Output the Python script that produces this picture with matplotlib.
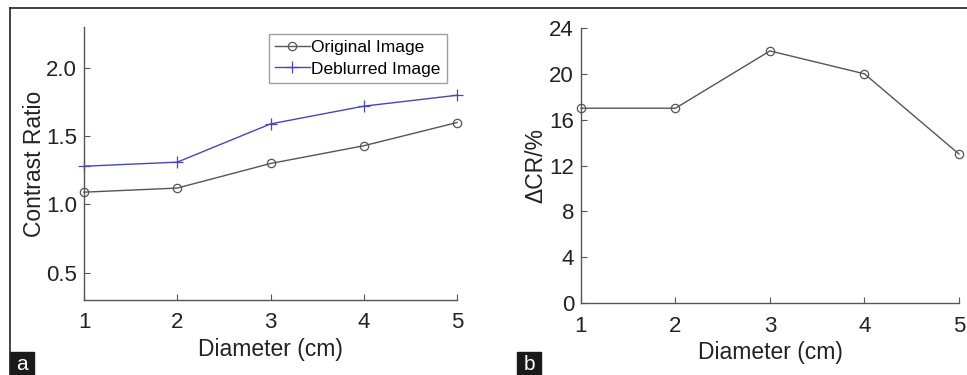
import numpy as np
import matplotlib
matplotlib.use('Agg')
import matplotlib.pyplot as plt
from matplotlib.lines import Line2D
from matplotlib.patches import Rectangle

plt.rcParams['font.family'] = ['Liberation Sans', 'DejaVu Sans']

# data
diameter = [1, 2, 3, 4, 5]
original = [1.09, 1.12, 1.30, 1.43, 1.60]
deblurred = [1.28, 1.31, 1.59, 1.72, 1.80]
delta_cr = [17, 17, 22, 20, 13]
cr_ticks = [0.5, 1.0, 1.5, 2.0]
dcr_ticks = [0, 4, 8, 12, 16, 20, 24]

gray = '#555555'
blue = '#4646c0'

fig = plt.figure(figsize=(9.67, 3.75), dpi=100)


def style_axes(ax):
    for s in ['top', 'right']:
        ax.spines[s].set_visible(False)
    for s in ['left', 'bottom']:
        ax.spines[s].set_color(gray)
        ax.spines[s].set_linewidth(1.0)
    ax.tick_params(direction='in', length=4, width=0.8, color=gray,
                   labelsize=16, labelcolor='#222222')
    ax.tick_params(axis='x', pad=9)
    ax.tick_params(axis='y', pad=5)
    ax.set_xticks(diameter)


# panel a
ax1 = fig.add_axes([0.0869, 0.2, 0.3857, 0.728])
ax1.plot(diameter, original, '-o', color=gray, lw=1.0, ms=6, mfc='none',
         mew=0.9, label='Original Image', clip_on=False)
ax1.plot(diameter, deblurred, '-+', color=blue, lw=1.0, ms=8, mew=0.9,
         label='Deblurred Image', clip_on=False)
ax1.set_xlim(1, 5)
ax1.set_ylim(0.3, 2.3)
ax1.set_yticks(cr_ticks)
ax1.set_yticklabels(['%.1f' % v for v in cr_ticks])
style_axes(ax1)
ax1.set_xlabel('Diameter (cm)', fontsize=16.5, color='#222222', labelpad=3)
ax1.set_ylabel('Contrast Ratio', fontsize=16.5, color='#222222', labelpad=0)
leg = ax1.legend(loc='upper right', bbox_to_anchor=(0.973, 0.974), fontsize=12.5,
                 frameon=True, fancybox=False, handlelength=2.0,
                 handletextpad=0.1, borderpad=0.35, labelspacing=0.35,
                 borderaxespad=0)
leg.get_frame().set_edgecolor('#888888')
leg.get_frame().set_linewidth(1.0)

# panel b
ax2 = fig.add_axes([0.6008, 0.192, 0.3909, 0.7333])
ax2.plot(diameter, delta_cr, '-o', color=gray, lw=1.0, ms=6, mfc='none',
         mew=0.9, clip_on=False)
ax2.set_xlim(1, 5)
ax2.set_ylim(0, 24)
ax2.set_yticks(dcr_ticks)
style_axes(ax2)
ax2.set_xlabel('Diameter (cm)', fontsize=16.5, color='#222222', labelpad=3)
ax2.set_ylabel('ΔCR/%', fontsize=16.5, color='#222222', labelpad=1)

# frame lines and panel labels
W, H = 967.0, 375.0
fig.add_artist(Line2D([10 / W, 1], [1 - 8 / H, 1 - 8 / H], color='#222222', lw=1.2))
fig.add_artist(Line2D([10 / W, 10 / W], [0, 1 - 8 / H], color='#222222', lw=1.2))
for x0, lab in [(10, 'a'), (517, 'b')]:
    fig.add_artist(Rectangle((x0 / W, 0), 24 / W, 23 / H, color='#1a1a1a',
                             transform=fig.transFigure))
    fig.text((x0 + 12) / W, 11 / H, lab, color='white', fontsize=15,
             ha='center', va='center')

fig.savefig('out.png', dpi=100)
